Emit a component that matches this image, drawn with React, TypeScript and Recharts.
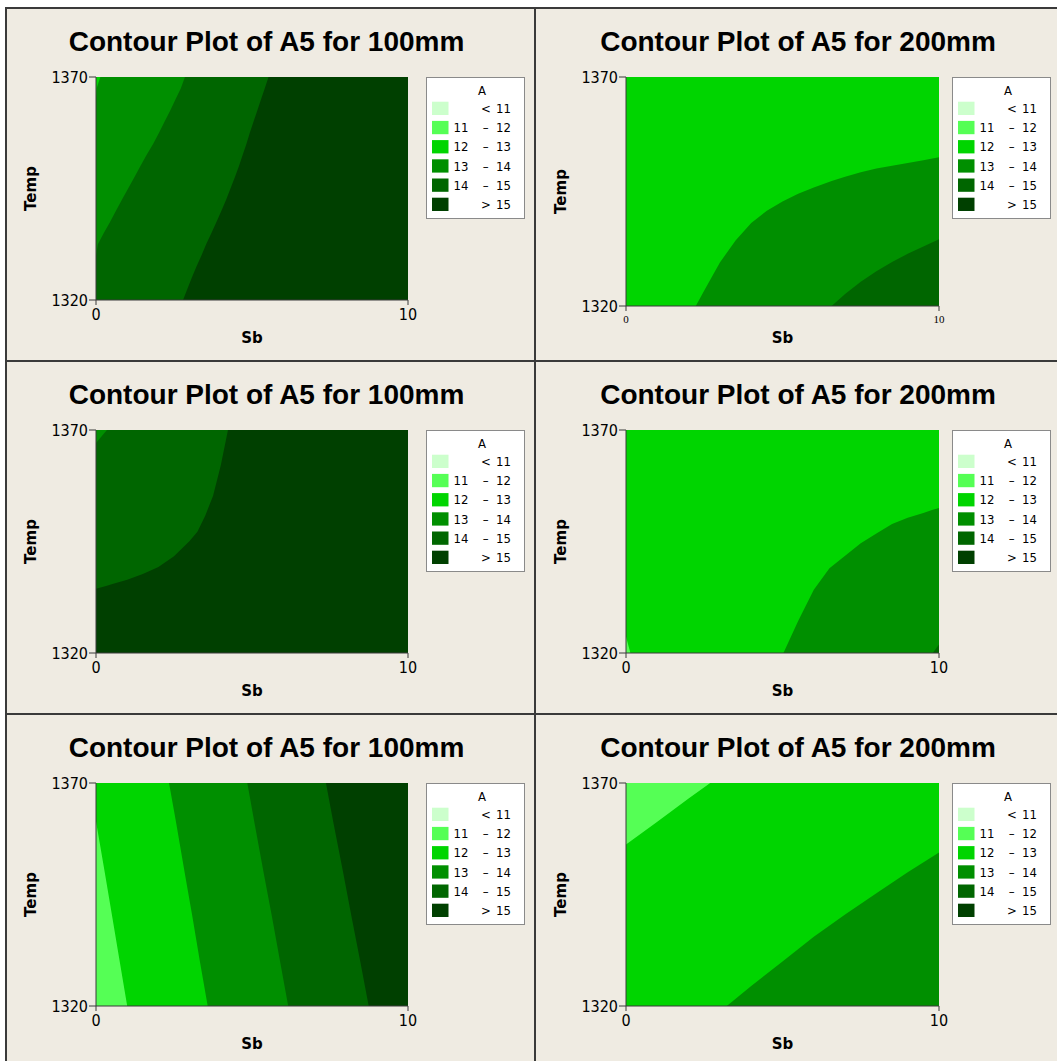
import { ComposedChart, Area, XAxis, YAxis, CartesianGrid } from 'recharts'

// contour levels (legend order)
const LEVEL_COLORS = ['#CCFFCC', '#55FF55', '#00D500', '#008F00', '#006600', '#004000']
const LEVEL_LO = ['', '11', '12', '13', '14', '']
const LEVEL_SYM = ['<', '–', '–', '–', '–', '>']
const LEVEL_HI = ['11', '12', '13', '14', '15', '15']

const SB_TICKS = [0, 10]
const TEMP_TICKS = [1320, 1370]

// panel 1 (100mm, top): boundaries read as Sb at given Temp
const P1_TEMP = [1320, 1322.5, 1325, 1327.5, 1330, 1332.5, 1335, 1337.5, 1340, 1342.5, 1345, 1347.5, 1350, 1352.5, 1355, 1357.5, 1360, 1362.5, 1365, 1367.5, 1370]
const P1_B15 = [2.79, 2.93, 3.07, 3.22, 3.38, 3.53, 3.7, 3.86, 4.02, 4.17, 4.31, 4.45, 4.58, 4.7, 4.82, 4.93, 5.05, 5.17, 5.29, 5.41, 5.53]
const P1_B14 = [0, 0, 0, 0, 0, 0.06, 0.25, 0.45, 0.64, 0.83, 1.03, 1.23, 1.42, 1.62, 1.83, 2.02, 2.2, 2.38, 2.55, 2.72, 2.85]
const P1_B13 = [0, 0, 0, 0, 0, 0, 0, 0, 0, 0, 0, 0, 0, 0, 0, 0, 0, 0, 0, 0.02, 0.14]

// panel 2 (200mm, top): boundaries read as Temp at given Sb
const P2_SB = [0, 2.23, 2.5, 3, 3.5, 4, 4.5, 5, 5.5, 6, 6.57, 7, 7.5, 8, 8.5, 9, 9.5, 10]
const P2_B13 = [1320, 1320, 1323.4, 1329.5, 1334.3, 1338.1, 1340.8, 1342.8, 1344.5, 1345.9, 1347.3, 1348.2, 1349.2, 1350.0, 1350.6, 1351.2, 1351.8, 1352.5]
const P2_B14 = [1320, 1320, 1320, 1320, 1320, 1320, 1320, 1320, 1320, 1320, 1320, 1322.6, 1325.3, 1327.6, 1329.6, 1331.4, 1333.0, 1334.6]

// panel 3 (100mm, middle)
const P3_SB = [0, 0.35, 0.5, 1, 1.5, 2, 2.5, 3, 3.25, 3.5, 3.75, 4, 4.23, 5, 6, 7, 8, 9, 10]
const P3_B14 = [1367.1, 1370, 1370, 1370, 1370, 1370, 1370, 1370, 1370, 1370, 1370, 1370, 1370, 1370, 1370, 1370, 1370, 1370, 1370]
const P3_B15 = [1334.4, 1335.1, 1335.4, 1336.4, 1337.7, 1339.3, 1341.7, 1345.1, 1347.2, 1350.8, 1355.2, 1362.1, 1370, 1370, 1370, 1370, 1370, 1370, 1370]

// panel 4 (200mm, middle)
const P4_SB = [0, 0.14, 0.5, 1, 2, 3, 4, 5.03, 5.5, 6, 6.5, 7, 7.5, 8, 8.5, 9, 9.5, 9.8, 10]
const P4_B13 = [1320, 1320, 1320, 1320, 1320, 1320, 1320, 1320, 1327.2, 1334.2, 1339.0, 1341.8, 1344.6, 1346.8, 1348.9, 1350.3, 1351.4, 1352.1, 1352.5]
const P4_B14 = [1320, 1320, 1320, 1320, 1320, 1320, 1320, 1320, 1320, 1320, 1320, 1320, 1320, 1320, 1320, 1320, 1320, 1320, 1321.9]
const P4_B12 = [1323.7, 1320, 1320, 1320, 1320, 1320, 1320, 1320, 1320, 1320, 1320, 1320, 1320, 1320, 1320, 1320, 1320, 1320, 1320]

// panel 5 (100mm, bottom): Sb at given Temp
const P5_TEMP = [1320, 1330, 1340, 1350, 1361.4, 1370]
const P5_B15 = [8.74, 8.47, 8.19, 7.92, 7.6, 7.37]
const P5_B14 = [6.16, 5.9, 5.64, 5.37, 5.07, 4.85]
const P5_B13 = [3.58, 3.33, 3.09, 2.84, 2.56, 2.34]
const P5_B12 = [1.0, 0.76, 0.52, 0.28, 0, 0]

// panel 6 (200mm, bottom)
const P6_SB = [0, 1, 2, 2.69, 3.22, 4, 5, 6, 7, 8, 9, 10]
const P6_B12 = [1356.2, 1361.3, 1366.5, 1370, 1370, 1370, 1370, 1370, 1370, 1370, 1370, 1370]
const P6_B13 = [1320, 1320, 1320, 1320, 1320, 1324.5, 1330.0, 1335.5, 1340.5, 1345.3, 1350.0, 1354.4]

const BG = '#EFEBE2'
const LINE = '#3a3a3a'
const TICK_FONT = "'DejaVu Sans Condensed', 'DejaVu Sans', sans-serif"
const TITLE_FONT = "'Liberation Sans', Arial, sans-serif"
const PANEL_H = 353
const PLOT_TOP = 69

interface Layer { values: number[]; level: number }
interface PanelCfg {
  title: string
  col: number
  row: number
  vertical: boolean // true: boundaries are Sb as a function of Temp
  grid: number[]
  bg: number
  layers: Layer[]
  plotBottom: number
  serifX?: boolean
}

const COL_X = [6, 535]
const COL_W = [529, 522]
const ROW_Y = [8, 361, 714]
const PLOT_X = [[90, 402], [91, 404]]
const LEGEND_X = [420, 417]
const TITLE_X = [260.5, 263]
const TEMP_X = [30, 31]

const PANELS: PanelCfg[] = [
  { title: 'Contour Plot of A5 for 100mm', col: 0, row: 0, vertical: true, grid: P1_TEMP, bg: 5, plotBottom: 292,
    layers: [{ values: P1_B15, level: 4 }, { values: P1_B14, level: 3 }, { values: P1_B13, level: 2 }] },
  { title: 'Contour Plot of A5 for 200mm', col: 1, row: 0, vertical: false, grid: P2_SB, bg: 2, plotBottom: 298, serifX: true,
    layers: [{ values: P2_B13, level: 3 }, { values: P2_B14, level: 4 }] },
  { title: 'Contour Plot of A5 for 100mm', col: 0, row: 1, vertical: false, grid: P3_SB, bg: 3, plotBottom: 292,
    layers: [{ values: P3_B14, level: 4 }, { values: P3_B15, level: 5 }] },
  { title: 'Contour Plot of A5 for 200mm', col: 1, row: 1, vertical: false, grid: P4_SB, bg: 2, plotBottom: 292,
    layers: [{ values: P4_B13, level: 3 }, { values: P4_B14, level: 4 }, { values: P4_B12, level: 1 }] },
  { title: 'Contour Plot of A5 for 100mm', col: 0, row: 2, vertical: true, grid: P5_TEMP, bg: 5, plotBottom: 292,
    layers: [{ values: P5_B15, level: 4 }, { values: P5_B14, level: 3 }, { values: P5_B13, level: 2 }, { values: P5_B12, level: 1 }] },
  { title: 'Contour Plot of A5 for 200mm', col: 1, row: 2, vertical: false, grid: P6_SB, bg: 1, plotBottom: 292,
    layers: [{ values: P6_B12, level: 2 }, { values: P6_B13, level: 3 }] },
]

function Legend({ x }: { x: number }) {
  const y = PLOT_TOP
  return (
    <g>
      <rect x={x + 0.5} y={y + 0.5} width={98} height={141} fill="#fff" stroke="#8a8a8a" />
      <text x={x + 56} y={y + 17.5} textAnchor="middle" fontSize={13} fontFamily={TICK_FONT}>A</text>
      {LEVEL_COLORS.map((c, i) => {
        const ry = y + 24.7 + 19.2 * i
        return (
          <g key={i}>
            <rect x={x + 6} y={ry} width={16.5} height={13.3} fill={c} />
            <text x={x + 42.5} y={ry + 11.3} textAnchor="end" fontSize={13} fontFamily={TICK_FONT}>{LEVEL_LO[i]}</text>
            <text x={x + 59.8} y={ry + 11.3} textAnchor="middle" fontSize={13} fontFamily={TICK_FONT}>{LEVEL_SYM[i]}</text>
            <text x={x + 85} y={ry + 11.3} textAnchor="end" fontSize={13} fontFamily={TICK_FONT}>{LEVEL_HI[i]}</text>
          </g>
        )
      })}
    </g>
  )
}

function Panel({ cfg }: { cfg: PanelCfg }) {
  const w = COL_W[cfg.col]
  const [pl, pr] = PLOT_X[cfg.col]
  const rows = cfg.grid.map((g, i) => {
    const r: Record<string, number> = { k: g }
    cfg.layers.forEach((l, j) => { r['b' + j] = l.values[i] })
    return r
  })
  const xTick = cfg.serifX
    ? { fill: '#000', fontSize: 11, fontFamily: "'Liberation Serif', serif" }
    : { fill: '#000', fontSize: 16, fontFamily: TICK_FONT }
  return (
    <div style={{ position: 'absolute', left: COL_X[cfg.col], top: ROW_Y[cfg.row], width: w, height: PANEL_H }}>
      <ComposedChart
        width={w}
        height={PANEL_H}
        data={rows}
        layout={cfg.vertical ? 'vertical' : 'horizontal'}
        margin={{ top: PLOT_TOP, right: w - pr, bottom: PANEL_H - cfg.plotBottom - 30, left: 0 }}
      >
        <CartesianGrid fill={LEVEL_COLORS[cfg.bg]} fillOpacity={1} stroke="none" horizontal={false} vertical={false} />
        {cfg.layers.map((l, j) => (
          <Area
            key={j}
            type="linear"
            dataKey={'b' + j}
            stroke="none"
            fill={LEVEL_COLORS[l.level]}
            fillOpacity={1}
            dot={false}
            activeDot={false}
            isAnimationActive={false}
          />
        ))}
        <XAxis
          type="number"
          dataKey={cfg.vertical ? undefined : 'k'}
          domain={[0, 10]}
          ticks={SB_TICKS}
          interval={0}
          allowDataOverflow
          height={30}
          tickSize={5}
          tickMargin={4}
          tick={xTick}
          axisLine={{ stroke: LINE }}
          tickLine={{ stroke: LINE }}
        />
        <YAxis
          type="number"
          dataKey={cfg.vertical ? 'k' : undefined}
          domain={[1320, 1370]}
          ticks={TEMP_TICKS}
          interval={0}
          allowDataOverflow
          reversed={cfg.vertical}
          width={pl}
          tickSize={7}
          tickMargin={1}
          tick={{ fill: '#000', fontSize: 16, fontFamily: TICK_FONT }}
          axisLine={{ stroke: LINE }}
          tickLine={{ stroke: LINE }}
        />
      </ComposedChart>
      <svg width={w} height={PANEL_H} style={{ position: 'absolute', left: 0, top: 0, pointerEvents: 'none' }}>
        <text x={TITLE_X[cfg.col]} y={42.5} textAnchor="middle" fontFamily={TITLE_FONT} fontWeight="bold" fontSize={28}>
          {cfg.title}
        </text>
        <text
          transform={`translate(${TEMP_X[cfg.col]},${(PLOT_TOP + cfg.plotBottom) / 2}) rotate(-90)`}
          textAnchor="middle"
          fontFamily="'DejaVu Sans', sans-serif"
          fontWeight="bold"
          fontSize={15}
        >Temp</text>
        <text x={(pl + pr) / 2} y={335} textAnchor="middle" fontFamily="'DejaVu Sans', sans-serif" fontWeight="bold" fontSize={15}>Sb</text>
        <Legend x={LEGEND_X[cfg.col]} />
      </svg>
    </div>
  )
}

export default function App() {
  const line = (s: React.CSSProperties) => <div style={{ position: 'absolute', background: LINE, ...s }} />
  return (
    <div style={{ position: 'absolute', left: 0, top: 0, width: 1057, height: 1061, background: '#fff', overflow: 'hidden' }}>
      <div style={{ position: 'absolute', left: 6, top: 8, width: 1051, height: 1053, background: BG }} />
      {PANELS.map((p, i) => <Panel key={i} cfg={p} />)}
      {line({ left: 5, top: 7, width: 2, height: 1054 })}
      {line({ left: 5, top: 7, width: 1052, height: 2 })}
      {line({ left: 534, top: 7, width: 2, height: 1054 })}
      {line({ left: 5, top: 360, width: 1052, height: 2 })}
      {line({ left: 5, top: 713, width: 1052, height: 2 })}
    </div>
  )
}
